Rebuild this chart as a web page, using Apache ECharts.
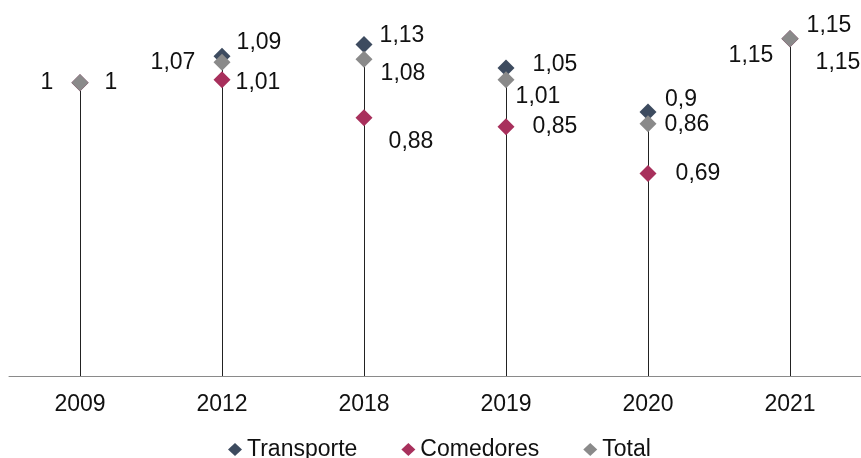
<!DOCTYPE html>
<html>
<head>
<meta charset="utf-8">
<script src="https://cdn.jsdelivr.net/npm/echarts@6/dist/echarts.min.js"></script>
<style>
  html, body { margin: 0; padding: 0; background: #fff; }
  #chart { width: 861px; height: 458px; }
</style>
</head>
<body>
<div id="chart"></div>
<script>
const years = ['2009', '2012', '2018', '2019', '2020', '2021'];
const transporte = [1, 1.09, 1.13, 1.05, 0.9, 1.15];
const comedores = [1, 1.01, 0.88, 0.85, 0.69, 1.15];
const total = [1, 1.07, 1.08, 1.01, 0.86, 1.15];

// label offsets from each marker (null = no label), placed by hand like the original
const offT = [[31, 0], [37, -14], [38, -9], [49, -3], [33, -12], [39, -13]];
const offC = [null, [36, 3], [47, 24], [49, 0], [50, 0], [48, 24]];
const offTot = [[-33, 0], [-49, 1], [39, 14], [32, 17], [39, 1], [-39, 17]];

const font = 'Liberation Sans, Arial, sans-serif';
const fmt = v => String(v).replace('.', ',');

function points(values, offsets) {
  return values.map((v, i) => ({
    value: v,
    label: offsets[i]
      ? { show: true, position: 'inside', offset: offsets[i], formatter: fmt(v) }
      : { show: false }
  }));
}

function series(name, color, values, offsets) {
  return {
    name: name, type: 'scatter', symbol: 'diamond', symbolSize: 17,
    itemStyle: { color: color, opacity: 1 },
    label: { color: '#111', fontSize: 23, fontFamily: font },
    data: points(values, offsets)
  };
}

// top of each drop line = highest value in that year
const tops = years.map((y, i) => Math.max(transporte[i], comedores[i], total[i]));

const chart = echarts.init(document.getElementById('chart'));
chart.setOption({
  animation: false,
  grid: { left: 9, right: 0, top: 24, bottom: 82 },
  xAxis: {
    type: 'category', data: years,
    axisLine: { lineStyle: { color: '#8a8a8a', width: 1 } },
    axisTick: { show: false },
    axisLabel: { color: '#111', fontSize: 23, fontFamily: font, margin: 17 }
  },
  yAxis: { type: 'value', min: 0, max: 1.2, show: false, splitLine: { show: false } },
  legend: {
    left: 223, top: 433,
    itemWidth: 14, itemHeight: 13, itemGap: 44,
    textStyle: { color: '#111', fontSize: 23, fontFamily: font },
    data: [
      { name: 'Transporte', icon: 'diamond' },
      { name: 'Comedores', icon: 'diamond' },
      { name: 'Total', icon: 'diamond' }
    ]
  },
  series: [
    {
      type: 'custom', z: 1, silent: true,
      renderItem: function (params, api) {
        const a = api.coord([api.value(0), 0]);
        const b = api.coord([api.value(0), api.value(1)]);
        const x = Math.round(a[0]) + 0.5;
        return {
          type: 'line',
          shape: { x1: x, y1: a[1], x2: x, y2: b[1] },
          style: { stroke: '#222', lineWidth: 1 }
        };
      },
      data: tops.map((v, i) => [i, v])
    },
    series('Transporte', '#3d4b5f', transporte, offT),
    series('Comedores', '#a8305c', comedores, offC),
    series('Total', '#8a8a8a', total, offTot)
  ]
});
</script>
</body>
</html>
